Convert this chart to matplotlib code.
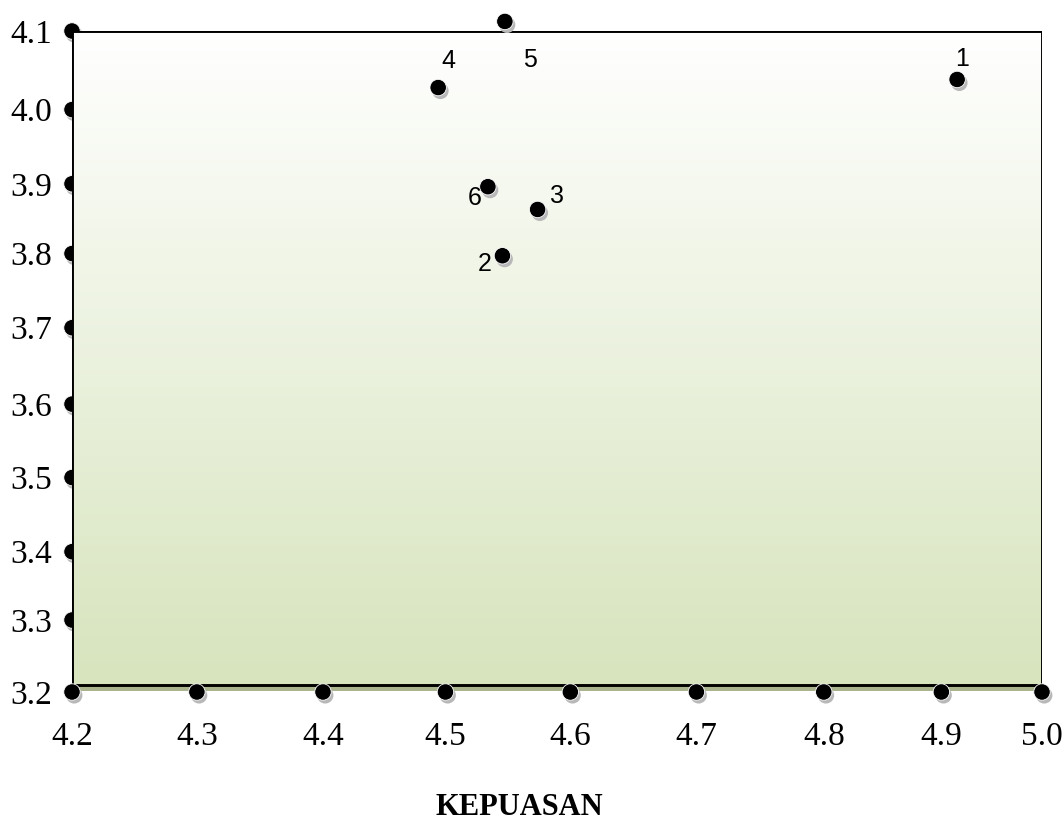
import numpy as np
import matplotlib
matplotlib.use("Agg")
import matplotlib.pyplot as plt
import matplotlib.patheffects as pe
from matplotlib.patches import Rectangle
from matplotlib.colors import LinearSegmentedColormap

# data points (KEPUASAN on x)
point_labels = ["1", "2", "3", "4", "5", "6"]
kepuasan = [4.930, 4.555, 4.584, 4.502, 4.557, 4.543]
nilai_y = [4.034, 3.794, 3.857, 4.023, 4.113, 3.888]

x_tick_labels = ["4.2", "4.3", "4.4", "4.5", "4.6", "4.7", "4.8", "4.9", "5.0"]
x_tick_pos = [4.200, 4.303, 4.407, 4.508, 4.611, 4.715, 4.820, 4.917, 5.000]
y_tick_labels = ["3.2", "3.3", "3.4", "3.5", "3.6", "3.7", "3.8", "3.9", "4.0", "4.1"]
y_tick_pos = [3.200, 3.298, 3.391, 3.492, 3.592, 3.696, 3.797, 3.892, 3.993, 4.100]

# label offsets in points (dx, dy)
label_offsets = {"1": (3.6, 14.4), "2": (-13, -5.8), "3": (13.7, 9.4),
                 "4": (7.2, 19.4), "5": (18, -28), "6": (-9.4, -7.9)}

fig = plt.figure(figsize=(10.63, 8.21), dpi=100)
ax = fig.add_axes([72 / 1063, 129 / 821, 970 / 1063, 661 / 821])
ax.patch.set_visible(False)

x0, x1 = 4.2, 5.0
y0, y1 = 3.2095, 4.1

shadow = [pe.SimplePatchShadow(offset=(1.6, -2.4), shadow_rgbFace="#b8b8b8", alpha=1.0), pe.Normal()]

# y-axis dots, half hidden behind the plot area
ax.scatter([x0] * (len(y_tick_pos) - 1), y_tick_pos[1:], s=140, c="black", edgecolors="white",
           linewidths=0.6, zorder=0.5, clip_on=False, path_effects=shadow)

# shadow of the plot area
ax.add_patch(Rectangle((x0 + 3 / 1212.5, y0 - 6 / 734), x1 - x0, y1 - y0,
                       facecolor="#a9b48f", edgecolor="none", zorder=0.8))

# gradient fill
cmap = LinearSegmentedColormap.from_list("g", ["#d7e4bd", "#ffffff"])
grad = np.linspace(0, 1, 256).reshape(-1, 1)
ax.imshow(grad, extent=[x0, x1, y0, y1], origin="lower", cmap=cmap, aspect="auto", zorder=1)

ax.add_patch(Rectangle((x0, y0), x1 - x0, y1 - y0, fill=False, edgecolor="black", linewidth=2.1, zorder=3))

# x-axis dots
ax.scatter(x_tick_pos, [3.2] * len(x_tick_pos), s=140, c="black", edgecolors="white",
           linewidths=0.6, zorder=6, clip_on=False, path_effects=shadow)

# data points
ax.scatter(kepuasan, nilai_y, s=140, c="black", edgecolors="white",
           linewidths=0.6, zorder=7, clip_on=False, path_effects=shadow)

for lab, x, y in zip(point_labels, kepuasan, nilai_y):
    ax.annotate(lab, (x, y), xytext=label_offsets[lab], textcoords="offset points",
                ha="center", va="center", fontsize=18, family=["Liberation Sans"],
                zorder=8, annotation_clip=False)

ax.set_xlim(4.2, 5.0)
ax.set_ylim(3.2, 4.1)
ax.set_xticks(x_tick_pos, x_tick_labels)
ax.set_yticks(y_tick_pos, y_tick_labels)
ax.tick_params(axis="both", length=0, labelsize=24)
ax.tick_params(axis="x", pad=21)
ax.tick_params(axis="y", pad=14)
for t in ax.get_xticklabels() + ax.get_yticklabels():
    t.set_family("Liberation Serif")
for s in ax.spines.values():
    s.set_visible(False)

fig.text(519 / 1063, 1 - 807 / 821, "KEPUASAN", ha="center", va="center",
         fontsize=22, fontweight="bold", family="Liberation Serif")

fig.savefig("out.png", dpi=100)
